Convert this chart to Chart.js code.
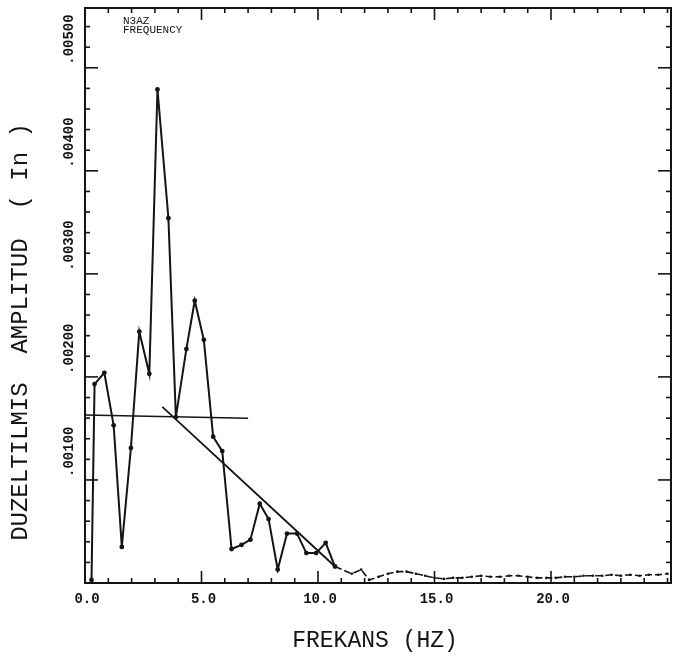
<!DOCTYPE html>
<html>
<head>
<meta charset="utf-8">
<script src="https://cdn.jsdelivr.net/npm/chart.js@4.4.1/dist/chart.umd.min.js"></script>
<style>
  html, body { margin: 0; padding: 0; background: #fff; }
  #wrap { width: 675px; height: 662px; }
</style>
</head>
<body>
<div id="wrap"><canvas id="spektrum" width="675" height="662"></canvas></div>
<script>
// Spectrum samples: frequency (Hz) and corrected amplitude (in)
const freqHz = [
  0.28, 0.41, 0.83, 1.23, 1.58, 1.97, 2.33, 2.76, 3.11, 3.58,
  3.90, 4.35, 4.71, 5.10, 5.50, 5.89, 6.29, 6.72, 7.10, 7.50,
  7.88, 8.27, 8.67, 9.10, 9.50, 9.92, 10.33, 10.73, 11.45, 11.85,
  12.2, 12.6, 13.0, 13.4, 13.8, 14.2, 14.6, 15.0, 15.4, 15.8,
  16.2, 16.6, 17.0, 17.4, 17.8, 18.2, 18.6, 19.0, 19.4, 19.8,
  20.2, 20.6, 21.0, 21.4, 21.8, 22.2, 22.6, 23.0, 23.4, 23.8,
  24.2, 24.6, 25.0
];
const amplitude = [
  0.00003, 0.00193, 0.00204, 0.00153, 0.00035, 0.00131, 0.00244, 0.00203, 0.00479, 0.00354,
  0.00161, 0.00227, 0.00274, 0.00236, 0.00142, 0.00128, 0.00033, 0.00037, 0.00042, 0.00077,
  0.00062, 0.00013, 0.00048, 0.00048, 0.00029, 0.00029, 0.00039, 0.00016, 0.00009, 0.00013,
  0.00003, 0.00006, 0.00009, 0.00011, 0.00011, 0.00009, 0.00007, 0.00005, 0.00004, 0.00005,
  0.00005, 0.00006, 0.00007, 0.00006, 0.00006, 0.00007, 0.00007, 0.00006, 0.00005, 0.00005,
  0.00005, 0.00006, 0.00006, 0.00007, 0.00007, 0.00007, 0.00008, 0.00007, 0.00008, 0.00007,
  0.00008, 0.00008, 0.00009
];
// above this frequency the trace is drawn dashed with tiny markers
const tailFromHz = 10.73;

// Fitted lines: flat level and the falling trend
const flatFitHz = [0, 7.0];
const flatFitAmp = [0.00163, 0.00160];
const slopeFitHz = [3.32, 10.73];
const slopeFitAmp = [0.00171, 0.00016];

// Axis ticks and labels
const xMajor = [0, 5, 10, 15, 20];
const xTickLabels = ['0.0', '5.0', '10.0', '15.0', '20.0'];
const yMajor = [0.001, 0.002, 0.003, 0.004, 0.005];
const yTickLabels = ['.00100', '.00200', '.00300', '.00400', '.00500'];
const xMinorStep = 1;
const yMinorStep = 0.0002;

const ink = '#141414';
const toPoints = (xs, ys) => xs.map((x, i) => ({ x: x, y: ys[i] }));

// frame, inward ticks and all the text
const plotterFrame = {
  id: 'plotterFrame',
  afterDraw(chart) {
    const { ctx, chartArea: a, scales: { x, y } } = chart;
    const seg = (x1, y1, x2, y2) => { ctx.beginPath(); ctx.moveTo(x1, y1); ctx.lineTo(x2, y2); ctx.stroke(); };
    ctx.save();
    ctx.strokeStyle = ink;
    ctx.fillStyle = ink;
    ctx.lineWidth = 2;
    ctx.strokeRect(a.left, a.top, a.right - a.left, a.bottom - a.top);

    ctx.lineWidth = 1.6;
    for (let f = xMinorStep; f < x.max; f += xMinorStep) {
      const px = x.getPixelForValue(f);
      const len = xMajor.includes(Math.round(f)) ? 12 : 5;
      seg(px, a.bottom, px, a.bottom - len);
      seg(px, a.top, px, a.top + len);
    }
    for (let v = yMinorStep; v < y.max; v += yMinorStep) {
      const py = y.getPixelForValue(v);
      const major = yMajor.some(m => Math.abs(m - v) < 1e-7);
      const len = major ? 13 : 5;
      seg(a.left, py, a.left + len, py);
      seg(a.right, py, a.right - len, py);
    }

    // x tick labels
    ctx.font = 'bold 14px "Liberation Mono"';
    ctx.textAlign = 'center';
    ctx.textBaseline = 'top';
    xMajor.forEach((f, i) => ctx.fillText(xTickLabels[i], x.getPixelForValue(f) + 2, a.bottom + 9));

    // y tick labels, rotated, starting at the tick
    ctx.textAlign = 'left';
    ctx.textBaseline = 'middle';
    yMajor.forEach((v, i) => {
      ctx.save();
      ctx.translate(a.left - 16, y.getPixelForValue(v) - 3);
      ctx.rotate(-Math.PI / 2);
      ctx.fillText(yTickLabels[i], 0, 0);
      ctx.restore();
    });

    // axis titles
    ctx.font = '23px "Liberation Mono"';
    ctx.textAlign = 'center';
    ctx.textBaseline = 'middle';
    ctx.fillText('FREKANS (HZ)', 375, 641);
    ctx.save();
    ctx.translate(21, 332);
    ctx.rotate(-Math.PI / 2);
    ctx.font = '24px "Liberation Mono"';
    ctx.fillText('DUZELTILMIS  AMPLITUD  ( In )', 0, 0);
    ctx.restore();

    // station note
    ctx.font = '11px "Liberation Mono"';
    ctx.textAlign = 'left';
    ctx.fillText('N3AZ', 123, 21);
    ctx.fillText('FREQUENCY', 123, 30);
    ctx.restore();
  }
};

new Chart(document.getElementById('spektrum'), {
  type: 'scatter',
  data: {
    datasets: [
      {
        data: toPoints(freqHz, amplitude),
        showLine: true,
        borderColor: ink,
        borderWidth: 2,
        pointRadius: freqHz.map(f => (f > tailFromHz ? 1.3 : 2.4)),
        pointBackgroundColor: ink,
        pointBorderWidth: 0,
        tension: 0,
        segment: {
          borderDash: c => (c.p0.parsed.x >= tailFromHz ? [7, 3] : undefined),
          borderWidth: c => (c.p0.parsed.x >= tailFromHz ? 1.6 : 2)
        }
      },
      {
        data: toPoints(flatFitHz, flatFitAmp),
        showLine: true,
        borderColor: ink,
        borderWidth: 1.5,
        pointRadius: 0
      },
      {
        data: toPoints(slopeFitHz, slopeFitAmp),
        showLine: true,
        borderColor: ink,
        borderWidth: 1.8,
        pointRadius: 0
      }
    ]
  },
  options: {
    responsive: false,
    animation: false,
    layout: { padding: { left: 85, right: 1, top: 8, bottom: 79 } },
    plugins: {
      legend: { display: false },
      tooltip: { enabled: false }
    },
    scales: {
      x: { type: 'linear', min: 0, max: 25.15, display: false },
      y: { type: 'linear', min: 0, max: 0.00558, display: false }
    }
  },
  plugins: [plotterFrame]
});
</script>
</body>
</html>
